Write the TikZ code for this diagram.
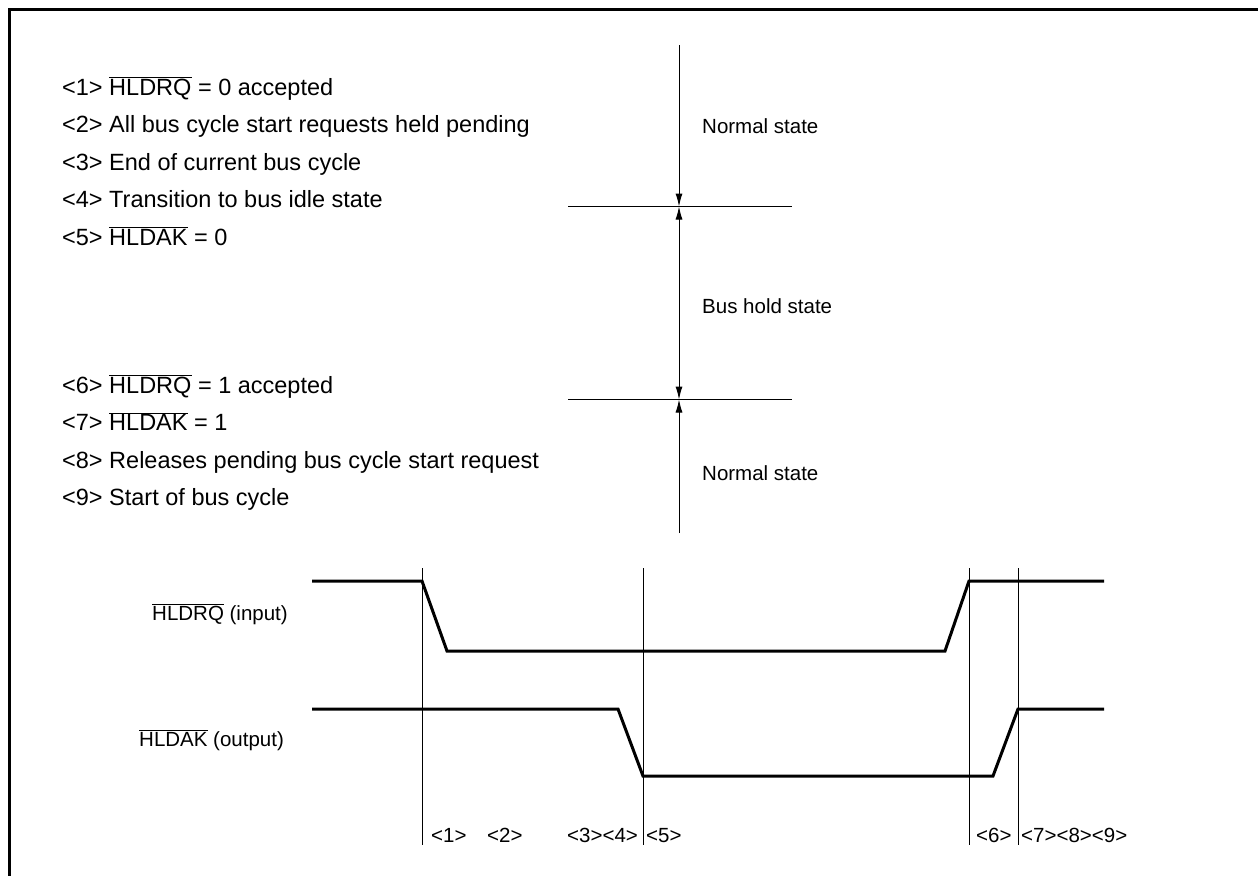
\documentclass[tikz,border=0pt]{standalone}
\usepackage{fontspec}
\setmainfont{Liberation Sans}
\usetikzlibrary{arrows.meta}
\newcommand{\ovl}[1]{$\overline{\mbox{#1}}$}
\begin{document}
\begin{tikzpicture}[x=1pt,y=-1pt,
  listtxt/.style={anchor=base west,inner sep=0pt,font=\fontsize{23.5}{28}\selectfont},
  lbl/.style={anchor=base west,inner sep=0pt,font=\fontsize{20.5}{24}\selectfont},
  sig/.style={line width=3pt,line join=miter},
  thin/.style={line width=1pt},
  arr/.style={line width=1pt,-{Latex[length=13pt,width=7pt]}},
  arrb/.style={line width=1pt,{Latex[length=13pt,width=7pt]}-{Latex[length=13pt,width=7pt]}}]
\useasboundingbox (0,0) rectangle (1258,876);
% frame
\coordinate (fTR) at (1258,9.5);
\coordinate (fTL) at (9.5,9.5);
\coordinate (fBL) at (9.5,876);
\draw[line width=3pt,line join=miter] (fTR) -- (fTL) -- (fBL);
% list
\node[listtxt] (l1) at (62,95) {<1> \ovl{HLDRQ} = 0 accepted};
\node[listtxt] (l2) at (62,132.5) {<2> All bus cycle start requests held pending};
\node[listtxt] (l3) at (62,170) {<3> End of current bus cycle};
\node[listtxt] (l4) at (62,207.5) {<4> Transition to bus idle state};
\node[listtxt] (l5) at (62,245) {<5> \ovl{HLDAK} = 0};
\node[listtxt] (l6) at (62,393) {<6> \ovl{HLDRQ} = 1 accepted};
\node[listtxt] (l7) at (62,430.5) {<7> \ovl{HLDAK} = 1};
\node[listtxt] (l8) at (62,468) {<8> Releases pending bus cycle start request};
\node[listtxt] (l9) at (62,505.5) {<9> Start of bus cycle};
% state axis
\coordinate (vTop) at (679,45);
\coordinate (vA) at (679,206.5);
\coordinate (vB) at (679,399.5);
\coordinate (vBot) at (679,533);
\coordinate (hAL) at (568,206.5);
\coordinate (hAR) at (792,206.5);
\coordinate (hBL) at (568,399.5);
\coordinate (hBR) at (792,399.5);
\draw[thin] (hAL) -- (hAR);
\draw[thin] (hBL) -- (hBR);
\draw[arr] (vTop) -- (vA);
\draw[arrb] (vA) -- (vB);
\draw[arr] (vBot) -- (vB);
\node[lbl] (s1) at (702,133) {Normal state};
\node[lbl] (s2) at (702,313) {Bus hold state};
\node[lbl] (s3) at (702,480) {Normal state};
% signal labels
\node[lbl] (rq) at (152,620) {\ovl{HLDRQ} (input)};
\node[lbl] (ak) at (139,746) {\ovl{HLDAK} (output)};
% timing markers
\foreach \n/\x in {m1/422,m5/643,m6/969,m7/1018}{
  \coordinate (\n t) at (\x,568);
  \coordinate (\n b) at (\x,845);
  \draw[thin] (\n t) -- (\n b);
}
% HLDRQ waveform
\coordinate (q0) at (312,581);
\coordinate (q1) at (422,581);
\coordinate (q2) at (447,651);
\coordinate (q3) at (945,651);
\coordinate (q4) at (969,581);
\coordinate (q5) at (1104,581);
\draw[sig] (q0) -- (q1) -- (q2) -- (q3) -- (q4) -- (q5);
% HLDAK waveform
\coordinate (k0) at (312,709);
\coordinate (k1) at (618,709);
\coordinate (k2) at (643,776);
\coordinate (k3) at (993,776);
\coordinate (k4) at (1018,709);
\coordinate (k5) at (1104,709);
\draw[sig] (k0) -- (k1) -- (k2) -- (k3) -- (k4) -- (k5);
% bottom labels
\node[lbl] (b1) at (431,842) {<1>};
\node[lbl] (b2) at (487,842) {<2>};
\node[lbl] (b34) at (567,842) {<3><4>};
\node[lbl] (b5) at (646,842) {<5>};
\node[lbl] (b6) at (976,842) {<6>};
\node[lbl] (b789) at (1021,842) {<7><8><9>};
\end{tikzpicture}
\end{document}
